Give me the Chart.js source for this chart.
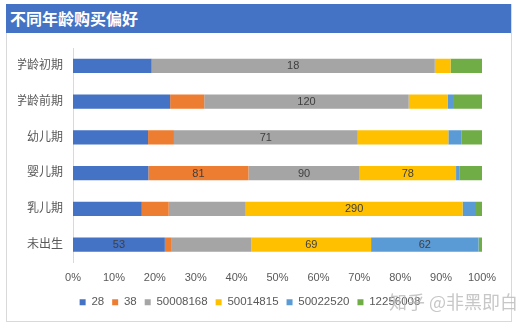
<!DOCTYPE html>
<html><head><meta charset="utf-8">
<script src="https://cdn.jsdelivr.net/npm/chart.js@4/dist/chart.umd.min.js"></script>
<style>
html,body{margin:0;padding:0;background:#fff;width:517px;height:323px;overflow:hidden;}
#frame{position:absolute;left:6px;top:4px;width:504px;height:316px;border:1px solid #d9d9d9;box-sizing:content-box;}
#title{position:absolute;left:6px;top:4px;width:505px;height:29px;background:#4472C4;color:#fff;font:bold 16px "Noto Sans CJK SC",sans-serif;line-height:29px;padding-left:4px;box-sizing:border-box;}
#wm{position:absolute;left:389px;top:288px;font:18px "Noto Sans CJK SC",sans-serif;color:rgba(185,185,185,0.8);white-space:nowrap;}
#c{position:absolute;left:0;top:0;}
</style></head><body>
<div id="frame"></div>
<div id="title">不同年龄购买偏好</div>
<canvas id="c" width="517" height="323"></canvas>
<div id="wm">知乎 @非黑即白</div>
<script>
const categories = ['学龄初期','学龄前期','幼儿期','婴儿期','乳儿期','未出生'];
const seriesNames = ['28','38','50008168','50014815','50022520','12256008'];
const s28       = [5, 57, 29, 61, 92, 53];
const s38       = [0, 20, 10, 81, 36, 4];
const s50008168 = [18, 120, 71, 90, 103, 46];
const s50014815 = [1, 23, 35, 78, 290, 69];
const s50022520 = [0, 3, 5, 3, 18, 62];
const s12256008 = [2, 17, 8, 18, 8, 2];
// which values carry a data label: [seriesIndex, categoryIndex]
const labelled = [[0,5],[1,3],[2,0],[2,1],[2,2],[2,3],[3,3],[3,4],[3,5],[4,5]];
const xTicks = [0,10,20,30,40,50,60,70,80,90,100];

const series = [s28, s38, s50008168, s50014815, s50022520, s12256008];
const colors = ['#4472C4','#ED7D31','#A5A5A5','#FFC000','#5B9BD5','#70AD47'];
const totals = categories.map((_, i) => series.reduce((a, s) => a + s[i], 0));

const datasets = series.map((s, k) => ({
  label: seriesNames[k],
  data: s.map((v, i) => v / totals[i] * 100),
  backgroundColor: colors[k],
  borderWidth: 0,
  barPercentage: 0.4,
  categoryPercentage: 1.0
}));

const FONT = '"Liberation Sans","Noto Sans CJK SC",sans-serif';

const labelPlugin = {
  id: 'segLabels',
  afterDatasetsDraw(chart) {
    const ctx = chart.ctx;
    ctx.save();
    ctx.font = '11px ' + FONT;
    ctx.fillStyle = '#404040';
    ctx.textAlign = 'center';
    ctx.textBaseline = 'middle';
    labelled.forEach(([k, i]) => {
      const el = chart.getDatasetMeta(k).data[i];
      const cx = (el.x + el.base) / 2;
      ctx.fillText(String(series[k][i]), cx, el.y + 0.5);
    });
    ctx.restore();
  }
};

new Chart(document.getElementById('c'), {
  type: 'bar',
  data: { labels: categories, datasets },
  options: {
    indexAxis: 'y',
    responsive: false,
    animation: false,
    devicePixelRatio: 1,
    layout: { padding: { left: 18, right: 35, top: 48, bottom: 5 } },
    scales: {
      x: {
        stacked: true, min: 0, max: 100,
        afterBuildTicks(scale) { scale.ticks = xTicks.map(v => ({ value: v })); },
        afterFit(scale) { scale.height = 26; },
        grid: { display: false, drawTicks: false },
        border: { display: false },
        ticks: { padding: 9, color: '#595959', font: { size: 11, family: FONT }, callback: v => v + '%', maxRotation: 0 }
      },
      y: {
        stacked: true,
        afterFit(scale) { scale.width = 55; },
        grid: { display: false, drawTicks: false },
        border: { display: true, color: '#d9d9d9', width: 1 },
        ticks: { padding: 10, color: '#595959', font: { size: 12, family: FONT } }
      }
    },
    plugins: {
      legend: {
        position: 'bottom',
        labels: { boxWidth: 6, boxHeight: 6, padding: 8, color: '#595959', font: { size: 11.5, family: FONT } }
      },
      tooltip: { enabled: false },
      title: { display: false }
    }
  },
  plugins: [labelPlugin]
});
</script>
</body></html>
